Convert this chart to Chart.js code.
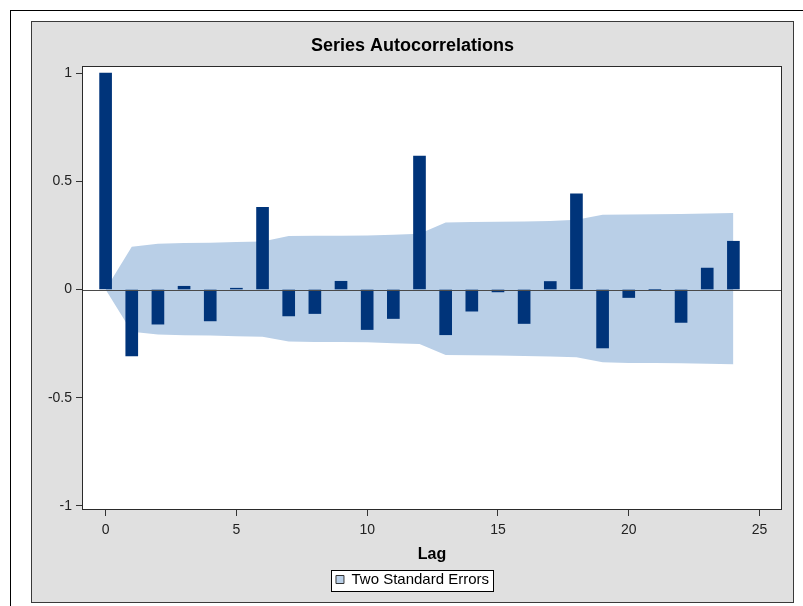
<!DOCTYPE html>
<html>
<head>
<meta charset="utf-8">
<script src="https://cdn.jsdelivr.net/npm/chart.js@4.4.1/dist/chart.umd.min.js"></script>
<style>
  html, body { margin: 0; padding: 0; background: #ffffff; width: 803px; height: 606px; overflow: hidden; }
  #outer { position: absolute; left: 10px; top: 10px; width: 900px; height: 700px; border: 1px solid #000; box-sizing: border-box; }
  #panel { position: absolute; left: 31px; top: 21px; width: 761px; height: 580px; border: 1px solid #3a3a3a; background: #e0e0e0; }
  #chart { display: block; }
</style>
</head>
<body>
<div id="outer"></div>
<div id="panel"><canvas id="chart" width="761" height="580"></canvas></div>
<script>
// ---- data ----
const lags = [0,1,2,3,4,5,6,7,8,9,10,11,12,13,14,15,16,17,18,19,20,21,22,23,24];
const acf = [1.0,-0.307,-0.16,0.015,-0.145,0.006,0.38,-0.122,-0.111,0.038,-0.185,-0.134,0.617,-0.209,-0.10,-0.011,-0.157,0.037,0.442,-0.27,-0.037,0.0,-0.152,0.099,0.223];
const upperSE = [0,0.198,0.212,0.215,0.216,0.220,0.222,0.247,0.248,0.248,0.249,0.253,0.258,0.310,0.312,0.313,0.314,0.317,0.322,0.345,0.347,0.348,0.349,0.351,0.353];
const lowerSE = [0,-0.195,-0.208,-0.211,-0.212,-0.216,-0.218,-0.240,-0.242,-0.243,-0.244,-0.248,-0.252,-0.302,-0.304,-0.305,-0.307,-0.309,-0.313,-0.336,-0.339,-0.340,-0.341,-0.343,-0.345];
const xTicks = [0,5,10,15,20,25];
const xTickLabels = ['0','5','10','15','20','25'];
const yTicks = [-1,-0.5,0,0.5,1];
const yTickLabels = ['-1','-0.5','0','0.5','1'];
const chartTitle = 'Series Autocorrelations';
const xTitle = 'Lag';
const legendLabel = 'Two Standard Errors';

const barColor = '#00347a';
const bandColor = '#b9cfe7';
const FONT = "'Liberation Sans', Arial, sans-serif";
Chart.defaults.font.family = FONT;

const plotDecor = {
  id: 'plotDecor',
  beforeDraw(chart) {
    const {ctx, chartArea: a} = chart;
    ctx.save();
    ctx.fillStyle = '#ffffff';
    ctx.fillRect(a.left, a.top, a.right - a.left, a.bottom - a.top);
    // legend frame
    const lg = chart.legend;
    if (lg && lg.legendHitBoxes && lg.legendHitBoxes.length) {
      const hb = lg.legendHitBoxes[0];
      const x0 = Math.round(hb.left) - 4.5;
      const y0 = Math.round(hb.top) - 1.5;
      const w = Math.round(hb.width) + 9;
      const h = 21;
      ctx.fillStyle = '#ffffff';
      ctx.fillRect(x0, y0, w, h);
      ctx.strokeStyle = '#000000';
      ctx.lineWidth = 1;
      ctx.strokeRect(x0, y0, w, h);
    }
    ctx.restore();
  },
  afterDatasetsDraw(chart) {
    const {ctx, chartArea: a, scales} = chart;
    const y0 = Math.round(scales.y.getPixelForValue(0)) + 0.5;
    ctx.save();
    ctx.strokeStyle = '#4a4a4a';
    ctx.lineWidth = 1;
    ctx.beginPath();
    ctx.moveTo(a.left, y0);
    ctx.lineTo(a.right, y0);
    ctx.stroke();
    ctx.restore();
  },
  afterDraw(chart) {
    const {ctx, chartArea: a} = chart;
    ctx.save();
    ctx.strokeStyle = '#2a2a2a';
    ctx.lineWidth = 1;
    ctx.strokeRect(a.left - 0.5, a.top - 0.5, a.right - a.left + 1, a.bottom - a.top + 1);
    ctx.restore();
  }
};

new Chart(document.getElementById('chart'), {
  type: 'bar',
  data: {
    datasets: [
      {
        type: 'bar',
        label: 'ACF',
        data: lags.map((l, i) => ({x: l, y: acf[i]})),
        backgroundColor: barColor,
        borderColor: barColor,
        borderWidth: 0,
        barThickness: 12,
        order: 0
      },
      {
        type: 'line',
        label: legendLabel,
        data: lags.map((l, i) => ({x: l, y: upperSE[i]})),
        backgroundColor: bandColor,
        borderColor: 'rgba(0,0,0,0)',
        borderWidth: 0,
        pointRadius: 0,
        tension: 0,
        fill: '+1',
        order: 2
      },
      {
        type: 'line',
        label: 'lower',
        data: lags.map((l, i) => ({x: l, y: lowerSE[i]})),
        backgroundColor: bandColor,
        borderColor: 'rgba(0,0,0,0)',
        borderWidth: 0,
        pointRadius: 0,
        tension: 0,
        fill: false,
        order: 2
      }
    ]
  },
  options: {
    responsive: false,
    animation: false,
    devicePixelRatio: 1,
    layout: { padding: { left: 0, right: 0, top: 0, bottom: 5 } },
    scales: {
      x: {
        type: 'linear',
        position: 'bottom',
        offset: false,
        min: -0.864,
        max: 25.82,
        afterBuildTicks: (s) => { s.ticks = xTicks.map(v => ({value: v})); },
        afterFit: (s) => { s.height = 57; },
        ticks: {
          padding: 6,
          color: '#222',
          font: { size: 14 },
          maxRotation: 0,
          autoSkip: false,
          callback: (v, i) => xTickLabels[i]
        },
        grid: { display: true, offset: false, drawOnChartArea: false, drawTicks: true, tickLength: 7, color: '#333' },
        border: { display: false },
        title: { display: true, text: xTitle, color: '#000', font: { size: 16, weight: 'bold' }, padding: { top: 0, bottom: 2 } }
      },
      y: {
        type: 'linear',
        position: 'left',
        min: -1.014,
        max: 1.028,
        afterBuildTicks: (s) => { s.ticks = yTicks.map(v => ({value: v})); },
        afterFit: (s) => { s.width = 51; },
        ticks: {
          padding: 4,
          color: '#222',
          font: { size: 14 },
          callback: (v, i) => yTickLabels[i]
        },
        grid: { display: true, drawOnChartArea: false, drawTicks: true, tickLength: 7, color: '#333' },
        border: { display: false }
      },
      yRight: {
        type: 'linear',
        position: 'right',
        display: true,
        min: 0,
        max: 1,
        afterFit: (s) => { s.width = 12; },
        ticks: { display: false },
        grid: { display: false },
        border: { display: false }
      }
    },
    plugins: {
      filler: { drawTime: 'beforeDatasetsDraw' },
      tooltip: { enabled: false },
      title: {
        display: true,
        text: chartTitle,
        color: '#000',
        font: { size: 18, weight: 'bold' },
        padding: { top: 13.7, bottom: 9.7 }
      },
      legend: {
        display: true,
        position: 'bottom',
        labels: {
          boxWidth: 8,
          boxHeight: 8,
          padding: 6,
          color: '#000',
          font: { size: 15 },
          generateLabels: () => [{
            text: legendLabel,
            fillStyle: bandColor,
            strokeStyle: '#333333',
            lineWidth: 1,
            hidden: false,
            datasetIndex: 1
          }]
        }
      }
    }
  },
  plugins: [plotDecor]
});
</script>
</body>
</html>
